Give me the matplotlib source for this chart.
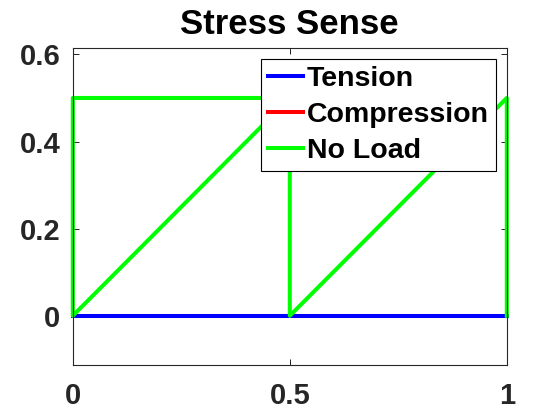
import matplotlib
matplotlib.use('Agg')
import matplotlib.pyplot as plt

plt.rcParams['font.family'] = ['Liberation Sans', 'DejaVu Sans']
plt.rcParams['font.weight'] = 'bold'

# data
x_flat = [0, 1]
y_flat = [0, 0]
x_noload = [0.5, 0, 0, 0.5, 0.5, 1, 1]
y_noload = [0.5, 0.5, 0, 0.5, 0, 0.5, 0]
labels = ['Tension', 'Compression', 'No Load']
xticks = [0, 0.5, 1]
yticks = [0, 0.2, 0.4, 0.6]

fig = plt.figure(figsize=(5.6, 4.2), dpi=100)
ax = fig.add_axes([0.130, 0.131, 0.775, 0.755])

l2, = ax.plot(x_flat, y_flat, color='#ff0000', lw=2.9, label=labels[1], clip_on=False)
l1, = ax.plot(x_flat, y_flat, color='#0000ff', lw=2.9, label=labels[0], clip_on=False)
l3, = ax.plot(x_noload, y_noload, color='#00ff00', lw=2.9, label=labels[2], clip_on=False)

ax.set_xlim(0, 1)
ax.set_ylim(-0.113, 0.615)
ax.set_xticks(xticks)
ax.set_xticklabels(['0', '0.5', '1'])
ax.set_yticks(yticks)
ax.set_yticklabels(['0', '0.2', '0.4', '0.6'])
ax.tick_params(direction='in', length=4, width=0.6, top=True, right=True,
               labelsize=21, labelcolor='#262626')
ax.tick_params(axis='x', pad=12)
ax.tick_params(axis='y', pad=9)
for s in ax.spines.values():
    s.set_linewidth(0.8)
    s.set_color('#262626')
ax.set_title('Stress Sense', fontsize=25, fontweight='bold', pad=10)

leg = ax.legend([l1, l2, l3], labels, loc='upper right', fontsize=20.5,
                handlelength=1.2, handletextpad=0.15, labelspacing=0.35,
                borderpad=0.25, borderaxespad=0.38, fancybox=False,
                framealpha=1, edgecolor='black')
leg.get_frame().set_linewidth(0.8)

fig.savefig('out.png', dpi=100)
